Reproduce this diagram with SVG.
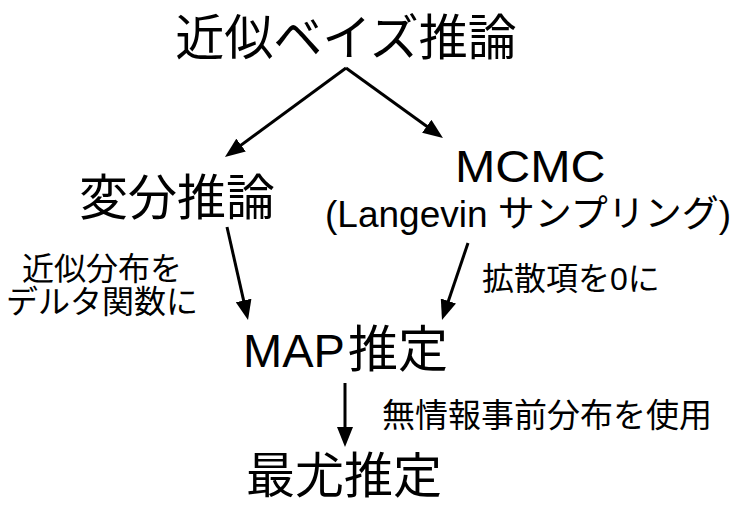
<svg xmlns="http://www.w3.org/2000/svg" width="750" height="513" viewBox="0 0 750 513">
<style>
text{font-family:"Liberation Sans","Noto Sans CJK JP",sans-serif;fill:#000}
.big{font-size:49px}
.small{font-size:32px}
.conn line{stroke:#000;stroke-width:3;fill:none}
</style>
<defs>
<marker id="ah" viewBox="0 0 20 16" refX="14" refY="8" markerWidth="20" markerHeight="16" markerUnits="userSpaceOnUse" orient="auto">
<path d="M0,0 L20,8 L0,16 z" fill="#000"/>
</marker>
</defs>
<rect width="750" height="513" fill="#fff"/>
<g class="conn">
<line x1="346" y1="68" x2="229.8" y2="153.4" marker-end="url(#ah)"/>
<line x1="346" y1="68" x2="438.1" y2="134.5" marker-end="url(#ah)"/>
<line x1="227" y1="227" x2="246.7" y2="314.1" marker-end="url(#ah)"/>
<line x1="468" y1="243" x2="443.9" y2="314.3" marker-end="url(#ah)"/>
<line x1="345" y1="383" x2="345" y2="441" marker-end="url(#ah)"/>
</g>
<g id="node-approx-bayes"><text class="big" x="346" y="55" text-anchor="middle">近似ベイズ推論</text></g>
<g id="node-vi"><text class="big" x="177" y="215" text-anchor="middle">変分推論</text></g>
<g id="node-mcmc">
<text x="0" y="0" font-size="44" transform="translate(455,182) scale(1.1,1)">MCMC</text>
<text x="325" y="227" font-size="37">(Langevin サンプリング)</text>
</g>
<g id="label-vi-map">
<text class="small" x="102" y="280" text-anchor="middle">近似分布を</text>
<text class="small" x="102" y="313" text-anchor="middle">デルタ関数に</text>
</g>
<g id="label-mcmc-map"><text class="small" x="482" y="290">拡散項を0に</text></g>
<g id="node-map"><text x="243" y="367" font-size="50"><tspan font-size="47">MAP</tspan><tspan x="348">推定</tspan></text></g>
<g id="label-map-mle"><text x="382" y="427" font-size="33">無情報事前分布を使用</text></g>
<g id="node-mle"><text class="big" x="246" y="493">最尤推定</text></g>
</svg>
